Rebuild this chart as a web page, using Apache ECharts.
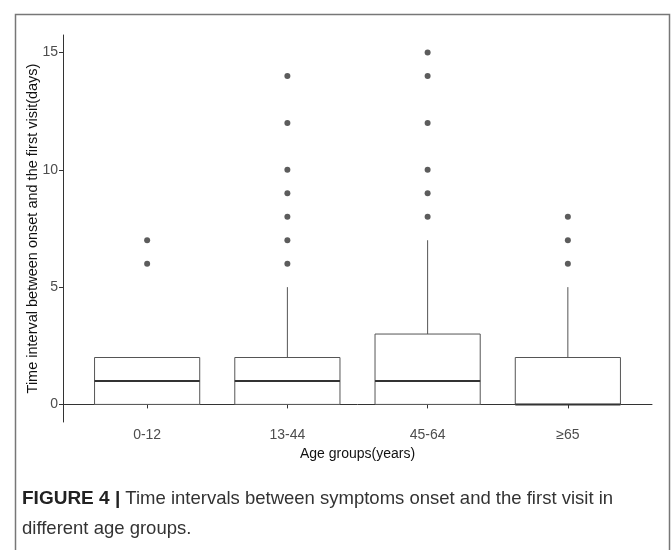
<!DOCTYPE html>
<html>
<head>
<meta charset="utf-8">
<script src="https://cdn.jsdelivr.net/npm/echarts@6/dist/echarts.min.js"></script>
<style>
  html, body { margin: 0; padding: 0; background: #fff; }
  #chart { width: 672px; height: 550px; }
</style>
</head>
<body>
<div id="chart"></div>
<script>
// age groups on the x axis
var groups = ['0-12', '13-44', '45-64', '≥65'];
// box statistics per group (days)
var lowerWhisker = [0, 0, 0, 0];
var q1 = [0, 0, 0, 0];
var median = [1, 1, 1, 0];
var q3 = [2, 2, 3, 2];
var upperWhisker = [2, 5, 7, 5];
// outlying points per group
var outliers = [
    [6, 7],
    [6, 7, 8, 9, 10, 12, 14],
    [8, 9, 10, 12, 14, 15],
    [6, 7, 8]
];
var yTicks = [0, 5, 10, 15];

var boxData = groups.map(function (g, i) {
    return [i + 1, lowerWhisker[i], q1[i], median[i], q3[i], upperWhisker[i]];
});
var pointData = [];
outliers.forEach(function (list, i) {
    list.forEach(function (v) { pointData.push([i + 1, v]); });
});

function renderBox(params, api) {
    var x = api.value(0);
    var half = api.size([0.375, 0])[0];
    var lo = api.coord([x, api.value(1)]);
    var b = api.coord([x, api.value(2)]);
    var m = api.coord([x, api.value(3)]);
    var t = api.coord([x, api.value(4)]);
    var hi = api.coord([x, api.value(5)]);
    var line = { stroke: '#555', lineWidth: 1, fill: null };
    return {
        type: 'group',
        children: [
            { type: 'line', shape: { x1: hi[0], y1: hi[1], x2: t[0], y2: t[1] }, style: line },
            { type: 'line', shape: { x1: lo[0], y1: lo[1], x2: b[0], y2: b[1] }, style: line },
            { type: 'rect', shape: { x: t[0] - half, y: t[1], width: half * 2, height: b[1] - t[1] },
              style: { stroke: '#555', lineWidth: 1, fill: '#fff' } },
            { type: 'line', shape: { x1: m[0] - half, y1: m[1], x2: m[0] + half, y2: m[1] },
              style: { stroke: '#333', lineWidth: 2 } }
        ]
    };
}

var chart = echarts.init(document.getElementById('chart'));
chart.setOption({
    backgroundColor: '#fff',
    animation: false,
    textStyle: { fontFamily: 'Liberation Sans, Arial, sans-serif' },
    grid: { left: 63, right: 20, top: 35, bottom: 128 },
    xAxis: {
        type: 'value',
        min: 0.4,
        max: 4.6,
        name: 'Age groups(years)',
        nameLocation: 'middle',
        nameGap: 22,
        nameTextStyle: { color: '#111', fontSize: 14 },
        axisLine: { show: true, lineStyle: { color: '#333', width: 1 } },
        axisTick: { show: true, length: 4, customValues: [1, 2, 3, 4], lineStyle: { color: '#333' } },
        axisLabel: {
            customValues: [1, 2, 3, 4],
            margin: 6,
            color: '#4d4d4d',
            fontSize: 14,
            formatter: function (v) { return groups[Math.round(v) - 1]; }
        },
        splitLine: { show: false }
    },
    yAxis: {
        type: 'value',
        min: -0.75,
        max: 15.75,
        name: 'Time interval between onset and the first visit(days)',
        nameLocation: 'middle',
        nameGap: 23,
        nameMoveOverlap: false,
        nameTextStyle: { color: '#111', fontSize: 14.5 },
        axisLine: { show: true, lineStyle: { color: '#333', width: 1 } },
        axisTick: { show: true, length: 4, customValues: yTicks, lineStyle: { color: '#333' } },
        axisLabel: { customValues: yTicks, margin: 5, color: '#4d4d4d', fontSize: 14 },
        splitLine: { show: false }
    },
    graphic: [
        { type: 'rect', left: 13, top: 12, z: -1,
          shape: { width: 654, height: 560 },
          style: { fill: 'none', stroke: '#777', lineWidth: 1.5 } },
        { type: 'text', left: 22, top: 484,
          style: {
              text: '{b|FIGURE 4 |} Time intervals between symptoms onset and the first visit in\ndifferent age groups.',
              fill: '#333', fontSize: 18.5, lineHeight: 30,
              fontFamily: 'Liberation Sans, Arial, sans-serif',
              rich: { b: { fontWeight: 'bold', fontSize: 19, fill: '#222' } }
          } }
    ],
    series: [
        {
            type: 'custom',
            renderItem: renderBox,
            data: boxData,
            encode: { x: 0, y: [1, 2, 3, 4, 5] }
        },
        {
            type: 'scatter',
            data: pointData,
            symbol: 'circle',
            symbolSize: 6,
            itemStyle: { color: '#333' }
        }
    ]
});
</script>
</body>
</html>
